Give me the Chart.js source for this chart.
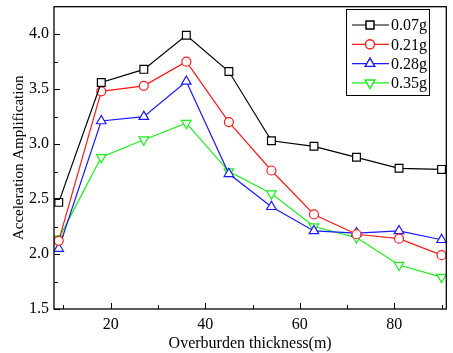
<!DOCTYPE html>
<html>
<head>
<meta charset="utf-8">
<script src="https://cdn.jsdelivr.net/npm/chart.js@4.4.0/dist/chart.umd.min.js"></script>
<style>
  html, body { margin: 0; padding: 0; background: #fff; }
  #wrap { width: 453px; height: 353px; }
</style>
</head>
<body>
<div id="wrap"><canvas id="chart" width="453" height="353"></canvas></div>
<script>
// overburden thickness (m)
const thickness = [9, 18, 27, 36, 45, 54, 63, 72, 81, 90];
const labels_g = ["0.07g", "0.21g", "0.28g", "0.35g"];
const amp_007 = [2.47, 3.56, 3.68, 3.99, 3.66, 3.03, 2.98, 2.88, 2.78, 2.77];
const amp_021 = [2.12, 3.48, 3.53, 3.75, 3.20, 2.76, 2.36, 2.18, 2.14, 1.99];
const amp_028 = [2.05, 3.21, 3.25, 3.57, 2.73, 2.43, 2.21, 2.19, 2.21, 2.13];
const amp_035 = [2.14, 2.88, 3.04, 3.19, 2.75, 2.55, 2.25, 2.15, 1.90, 1.79];
const x_ticks = [20, 40, 60, 80];
const x_minor = [10, 30, 50, 70, 90];
const y_ticks = [1.5, 2.0, 2.5, 3.0, 3.5, 4.0];
const y_minor = [1.75, 2.25, 2.75, 3.25, 3.75];

const FONT = "'Liberation Serif', 'Times New Roman', serif";

function to_points(ys) {
    return thickness.map((x, i) => ({x: x, y: ys[i]}));
}

const series = [
    {label: labels_g[0], data: amp_007, color: '#000000', style: 'rect', radius: 5.5, rot: 0},
    {label: labels_g[1], data: amp_021, color: '#ff1a1a', style: 'circle', radius: 4.5, rot: 0},
    {label: labels_g[2], data: amp_028, color: '#1a1aff', style: 'triangle', radius: 5.5, rot: 0},
    {label: labels_g[3], data: amp_035, color: '#1aee1a', style: 'triangle', radius: 5.5, rot: 180},
];

// inner ticks, frame and legend box
const frame_plugin = {
    id: 'frame_plugin',
    afterDraw(chart) {
        let ctx = chart.ctx;
        let a = chart.chartArea;
        let xs = chart.scales.x, ys = chart.scales.y;
        ctx.save();
        ctx.strokeStyle = '#000';
        ctx.lineWidth = 1.3;
        ctx.strokeRect(a.left, a.top, a.right - a.left, a.bottom - a.top);
        ctx.lineWidth = 1;
        ctx.beginPath();
        x_ticks.forEach(v => { let p = Math.round(xs.getPixelForValue(v)) + 0.5; ctx.moveTo(p, a.bottom); ctx.lineTo(p, a.bottom - 6); });
        x_minor.forEach(v => { let p = Math.round(xs.getPixelForValue(v)) + 0.5; ctx.moveTo(p, a.bottom); ctx.lineTo(p, a.bottom - 4); });
        y_ticks.forEach(v => { let p = Math.round(ys.getPixelForValue(v)) + 0.5; ctx.moveTo(a.left, p); ctx.lineTo(a.left + 6, p); });
        y_minor.forEach(v => { let p = Math.round(ys.getPixelForValue(v)) + 0.5; ctx.moveTo(a.left, p); ctx.lineTo(a.left + 4, p); });
        ctx.stroke();

        // legend
        let bx = 346.5, by = 9.5, bw = 83, bh = 86;
        ctx.fillStyle = '#fff';
        ctx.fillRect(bx, by, bw, bh);
        ctx.strokeStyle = '#000';
        ctx.lineWidth = 1;
        ctx.strokeRect(bx, by, bw, bh);
        ctx.font = '16px ' + FONT;
        ctx.textBaseline = 'middle';
        ctx.textAlign = 'left';
        series.forEach((s, i) => {
            let yy = 25 + i * 19.3;
            ctx.strokeStyle = s.color;
            ctx.lineWidth = 1.2;
            ctx.beginPath();
            ctx.moveTo(352, yy);
            ctx.lineTo(389, yy);
            ctx.stroke();
            ctx.fillStyle = '#fff';
            Chart.helpers.drawPoint(ctx, {pointStyle: s.style, radius: s.radius, rotation: s.rot, borderWidth: 1.2}, 370, yy);
            ctx.fill();
            ctx.stroke();
            ctx.fillStyle = '#000';
            ctx.fillText(s.label, 391, yy + 1);
        });
        ctx.restore();
    }
};

new Chart(document.getElementById('chart'), {
    type: 'line',
    data: {
        datasets: series.map(s => ({
            label: s.label,
            data: to_points(s.data),
            borderColor: s.color,
            backgroundColor: '#fff',
            borderWidth: 1.2,
            pointStyle: s.style,
            pointRadius: s.radius,
            pointRotation: s.rot,
            pointBorderWidth: 1.2,
            pointBackgroundColor: '#fff',
            tension: 0,
        }))
    },
    options: {
        responsive: false,
        animation: false,
        layout: {padding: {top: 6, right: 2, left: 0, bottom: 0}},
        plugins: {legend: {display: false}, tooltip: {enabled: false}},
        scales: {
            x: {
                type: 'linear',
                min: 8,
                max: 91,
                afterBuildTicks: (sc) => { sc.ticks = x_ticks.map(v => ({value: v})); },
                afterFit: (sc) => { sc.height = 44; sc.paddingLeft = 0; sc.paddingRight = 0; },
                grid: {display: false, drawTicks: false},
                border: {display: false},
                ticks: {color: '#000', padding: 6, maxRotation: 0, font: {family: FONT, size: 16}},
                title: {display: true, text: 'Overburden thickness(m)', color: '#000', padding: {top: 2, bottom: 0}, font: {family: FONT, size: 16}},
            },
            y: {
                min: 1.5,
                max: 4.25,
                afterBuildTicks: (sc) => { sc.ticks = y_ticks.map(v => ({value: v})); },
                afterFit: (sc) => { sc.width = 54; sc.paddingTop = 0; sc.paddingBottom = 0; },
                grid: {display: false, drawTicks: false},
                border: {display: false},
                ticks: {color: '#000', padding: 5, font: {family: FONT, size: 16}, callback: (v) => v.toFixed(1)},
                title: {display: true, text: 'Acceleration Amplification', color: '#000', padding: {top: 10, bottom: 2}, font: {family: FONT, size: 15}},
            }
        }
    },
    plugins: [frame_plugin]
});
</script>
</body>
</html>
